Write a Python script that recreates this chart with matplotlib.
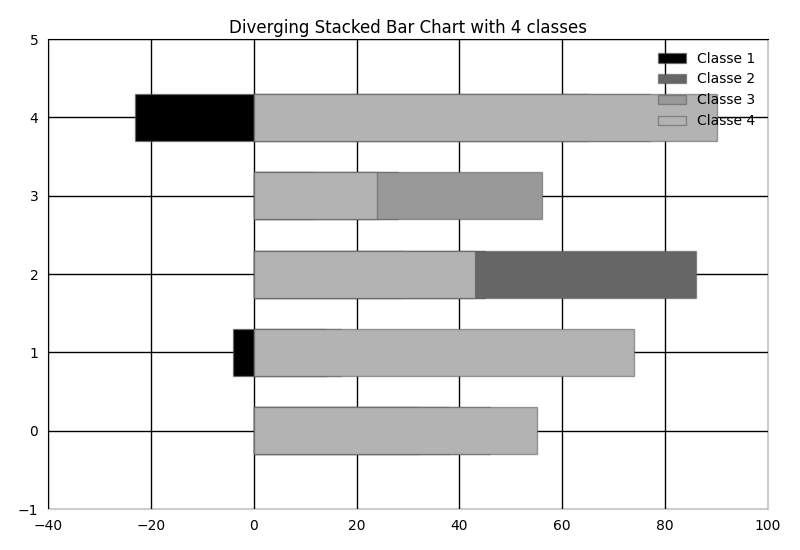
import matplotlib
matplotlib.use("Agg")
import matplotlib.pyplot as plt

rows = [0, 1, 2, 3, 4]
classes = ["Classe 1", "Classe 2", "Classe 3", "Classe 4"]
classe1 = [32, -4, 45, 12, -23]
classe2 = [38, 14, 86, 28, 65]
classe3 = [46, 17, 29, 56, 77]
classe4 = [55, 74, 43, 24, 90]
colors = ["0.0", "0.4", "0.6", "0.7"]

series = [classe1, classe2, classe3, classe4]

fig = plt.figure(figsize=(8, 5.5), dpi=100, facecolor="white")
ax = fig.add_axes([0.06, 0.0745, 0.90, 0.8545])
ax.set_axisbelow(True)
ax.grid(True, color="black", linestyle="-", linewidth=1.0)

for name, vals, col in zip(classes, series, colors):
    ax.barh(rows, vals, height=0.6, left=0, color=col,
            edgecolor=(0.35, 0.35, 0.35, 0.55), linewidth=1.0, label=name, zorder=3)

ax.set_xlim(-40, 100)
ax.set_ylim(-1, 5)
ax.set_xticks([-40, -20, 0, 20, 40, 60, 80, 100])
ax.set_yticks([-1, 0, 1, 2, 3, 4, 5])
ax.tick_params(length=0, labelsize=10, pad=7)
ax.spines["top"].set_color("black")
ax.spines["left"].set_color("black")
ax.spines["bottom"].set_color("0.8")
ax.spines["right"].set_color("0.8")
ax.set_title("Diverging Stacked Bar Chart with 4 classes", fontsize=12, pad=4)
leg = ax.legend(loc="upper right", frameon=False, fontsize=10)
leg.set_zorder(10)

fig.savefig("out.png", dpi=100, facecolor="white")
